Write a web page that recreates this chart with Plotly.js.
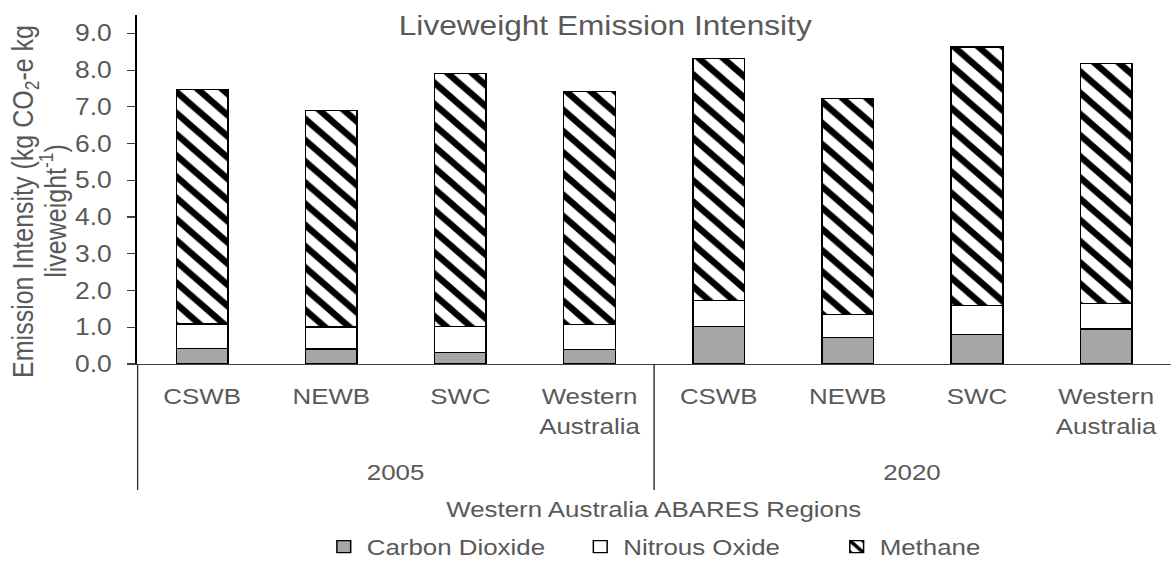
<!DOCTYPE html>
<html>
<head>
<meta charset="utf-8">
<script src="https://cdn.plot.ly/plotly-3.0.1.min.js"></script>
<style>
  html, body { margin: 0; padding: 0; background: #ffffff; overflow: hidden; }
  #wrap { width: 1018px; height: 569px; transform: scaleX(1.15); transform-origin: 0 0; }
  #chart { width: 1018px; height: 569px; }
</style>
</head>
<body>
<div id="wrap"><div id="chart"></div></div>
<script>
// Data
const years = ['2005', '2005', '2005', '2005', '2020', '2020', '2020', '2020'];
const regions = ['CSWB', 'NEWB', 'SWC', 'Western<br>Australia', 'CSWB', 'NEWB', 'SWC', 'Western<br>Australia'];
const carbonDioxide = [0.43, 0.41, 0.31, 0.40, 1.02, 0.72, 0.81, 0.95];
const nitrousOxide = [0.66, 0.60, 0.71, 0.67, 0.70, 0.62, 0.78, 0.70];
const methane = [6.38, 5.89, 6.88, 6.35, 6.59, 5.88, 7.04, 6.53];
const seriesNames = ['Carbon Dioxide', 'Nitrous Oxide', 'Methane'];
const yTickVals = [0, 1, 2, 3, 4, 5, 6, 7, 8, 9];
const yTickText = ['0.0', '1.0', '2.0', '3.0', '4.0', '5.0', '6.0', '7.0', '8.0', '9.0'];
const yTitleLines = ['Emission Intensity (kg CO<sub>2</sub>-e kg', 'liveweight<sup>-1</sup>)'];
const xTitle = 'Western Australia ABARES Regions';
const chartTitle = 'Liveweight Emission Intensity';

const textColor = '#595959';
const font = 'Liberation Sans, Arial, sans-serif';
const outline = { color: '#000000', width: 1.3 };

// one category key per bar (year + region), labelled with the region
const keys = years.map((y, i) => y + '|' + regions[i]);

// groups of the year level
const groups = [];
years.forEach((y, i) => {
  const g = groups[groups.length - 1];
  if (g && g.year === y) { g.end = i; } else { groups.push({ year: y, start: i, end: i }); }
});

const traces = [
  {
    type: 'bar', name: seriesNames[0], x: keys, y: carbonDioxide,
    marker: { color: '#a6a6a6', line: outline }
  },
  {
    type: 'bar', name: seriesNames[1], x: keys, y: nitrousOxide,
    marker: { color: '#ffffff', line: outline }
  },
  {
    type: 'bar', name: seriesNames[2], x: keys, y: methane,
    marker: {
      color: '#ffffff', line: outline,
      pattern: { shape: '\\', fgcolor: '#000000', bgcolor: '#ffffff', size: 15, solidity: 0.4 }
    }
  }
];

// dividers at the start of each year group
const dividerBottom = -0.361;
const shapes = groups.map(g => ({
  type: 'line', xref: 'x', yref: 'paper', x0: g.start - 0.5, x1: g.start - 0.5, y0: 0, y1: dividerBottom,
  line: { color: '#262626', width: 1.2 }
}));

const annotations = groups.map(g => ({
  xref: 'x', yref: 'paper', x: (g.start + g.end) / 2, y: -0.312,
  xanchor: 'center', yanchor: 'middle', showarrow: false,
  text: g.year, font: { family: font, size: 22.5, color: textColor }
}));
annotations.push({
  xref: 'paper', yref: 'paper', x: -0.108, y: 0.467, xanchor: 'center', yanchor: 'middle',
  textangle: -90, showarrow: false, text: yTitleLines[0],
  font: { family: font, size: 25, color: textColor }
});
annotations.push({
  xref: 'paper', yref: 'paper', x: -0.0805, y: 0.438, xanchor: 'center', yanchor: 'middle',
  textangle: -90, showarrow: false, text: yTitleLines[1],
  font: { family: font, size: 25, color: textColor }
});

const layout = {
  width: 1018, height: 569,
  paper_bgcolor: '#ffffff', plot_bgcolor: '#ffffff',
  margin: { l: 119, r: 0, t: 15, b: 205 },
  barmode: 'stack', bargap: 0.6,
  font: { family: font, color: textColor, size: 22 },
  title: {
    text: chartTitle,
    font: { family: font, size: 27.5, color: textColor },
    xref: 'container', x: 0.517, xanchor: 'center',
    yref: 'container', y: 1 - 25 / 569, yanchor: 'middle'
  },
  xaxis: {
    type: 'category',
    tickvals: keys, ticktext: regions,
    showline: true, linecolor: '#404040', linewidth: 1.3,
    showgrid: false, ticks: '',
    tickfont: { family: font, size: 22.5, color: textColor },
    ticklabelstandoff: 12,
    title: { text: xTitle, font: { family: font, size: 22.5, color: textColor }, standoff: 63 }
  },
  yaxis: {
    range: [0, 9.5],
    tickvals: yTickVals, ticktext: yTickText,
    showgrid: false, zeroline: false,
    showline: true, linecolor: '#000000', linewidth: 1.2,
    ticks: 'outside', ticklen: 7, tickcolor: '#404040', tickwidth: 1.2,
    ticklabelstandoff: 9,
    tickfont: { family: font, size: 23, color: textColor }
  },
  shapes: shapes,
  annotations: annotations,
  showlegend: true,
  legend: {
    orientation: 'h', traceorder: 'normal',
    x: 0.55, xanchor: 'center',
    yref: 'container', y: 1 - 547 / 569, yanchor: 'middle',
    font: { family: font, size: 22.5, color: textColor },
    itemwidth: 30, entrywidth: 178
  },
  hovermode: false
};

Plotly.newPlot('chart', traces, layout, { displayModeBar: false, staticPlot: true });
</script>
</body>
</html>
